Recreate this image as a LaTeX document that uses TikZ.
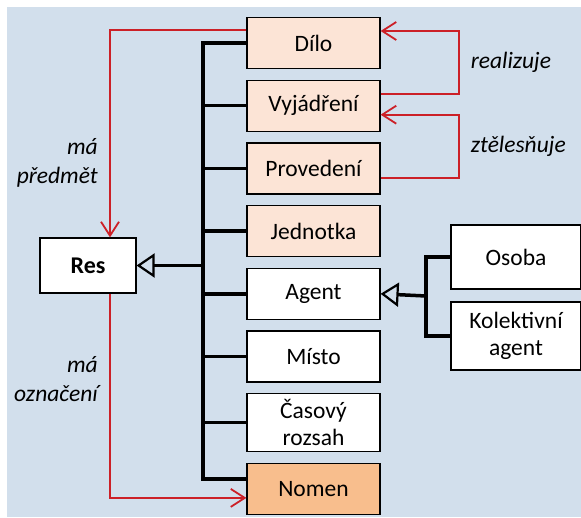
\documentclass[tikz,border=0pt]{standalone}
\usepackage{fontspec}
\setmainfont{Carlito}
\usetikzlibrary{arrows.meta,positioning}
\definecolor{bgblue}{RGB}{210,223,236}
\definecolor{peach}{RGB}{252,228,214}
\definecolor{nomenor}{RGB}{248,190,141}
\definecolor{relred}{RGB}{204,32,39}

\begin{document}
\begin{tikzpicture}[x=1pt,y=-1pt,node distance=10.5pt,
  cls/.style={draw,line width=1.2pt,fill=white,minimum width=133pt,minimum height=51pt,
    align=center,inner sep=2pt,font=\fontsize{23.5}{27}\selectfont},
  tree/.style={line width=3.5pt},
  isa/.style={tree,-{Triangle[open,length=18pt,width=24pt,line width=2.2pt]}},
  rel/.style={draw=relred,line width=1.8pt,-{Straight Barb[length=14pt,width=18pt,line width=1.8pt]}},
  lbl/.style={font=\fontsize{23.5}{29}\selectfont\itshape}]
  \useasboundingbox (0,0) rectangle (581,517);
  \fill[bgblue] (7,7) rectangle (581,517);

  \node[cls,fill=peach]   (dilo)      at (313.5,43)        {Dílo};
  \node[cls,fill=peach]   (vyjadreni) [below=of dilo]      {Vyjádření};
  \node[cls,fill=peach]   (provedeni) [below=of vyjadreni] {Provedení};
  \node[cls,fill=peach]   (jednotka)  [below=of provedeni] {Jednotka};
  \node[cls]              (agent)     [below=of jednotka]  {Agent};
  \node[cls]              (misto)     [below=of agent]     {Místo};
  \node[cls,minimum height=58pt] (rozsah) [below=of misto] {Časový\\rozsah};
  \node[cls,fill=nomenor] (nomen)     [below=of rozsah]    {Nomen};
  \node[cls,minimum width=96pt,minimum height=55pt,font=\fontsize{24}{28}\selectfont\bfseries]
                          (res)       at (88,265.5)        {Res};
  \node[cls,minimum width=130pt,minimum height=64pt] (osoba) at (516,257) {Osoba};
  \node[cls,minimum width=130pt,minimum height=68pt] (kolektiv) at (516,336) {Kolektivní\\agent};

  \coordinate (hub)  at (203,265.5);
  \coordinate (ahub) at (426,296);
  \foreach \n in {dilo,vyjadreni,provedeni,jednotka,agent,misto,rozsah}
    \draw[tree] (\n.west) -| (hub);
  \draw[tree] ([yshift=10pt]nomen.west) -| (hub);
  \draw[isa] (hub) -- (res.east);
  \draw[tree] (osoba.west) -| (ahub);
  \draw[tree] (kolektiv.west) -| (ahub);
  \draw[isa] (ahub) -- (agent.east);

  \draw[rel] ([yshift=13pt]dilo.west) -| ([xshift=22pt]res.north)
    node[lbl,pos=0.82,left=8pt,align=right] {má\\předmět};
  \draw[rel] ([xshift=22pt]res.south) |- ([yshift=-9pt]nomen.west)
    node[lbl,pos=0.21,left=8pt,align=right] {má\\označení};
  \draw[rel] ([yshift=12pt]vyjadreni.east) -- ++(78,0) |- ([yshift=12pt]dilo.east)
    node[lbl,pos=0.25,right=8pt] {realizuje};
  \draw[rel] ([yshift=-9.5pt]provedeni.east) -- ++(78,0) |- ([yshift=-9pt]vyjadreni.east)
    node[lbl,pos=0.25,right=8pt] {ztělesňuje};
\end{tikzpicture}
\end{document}
